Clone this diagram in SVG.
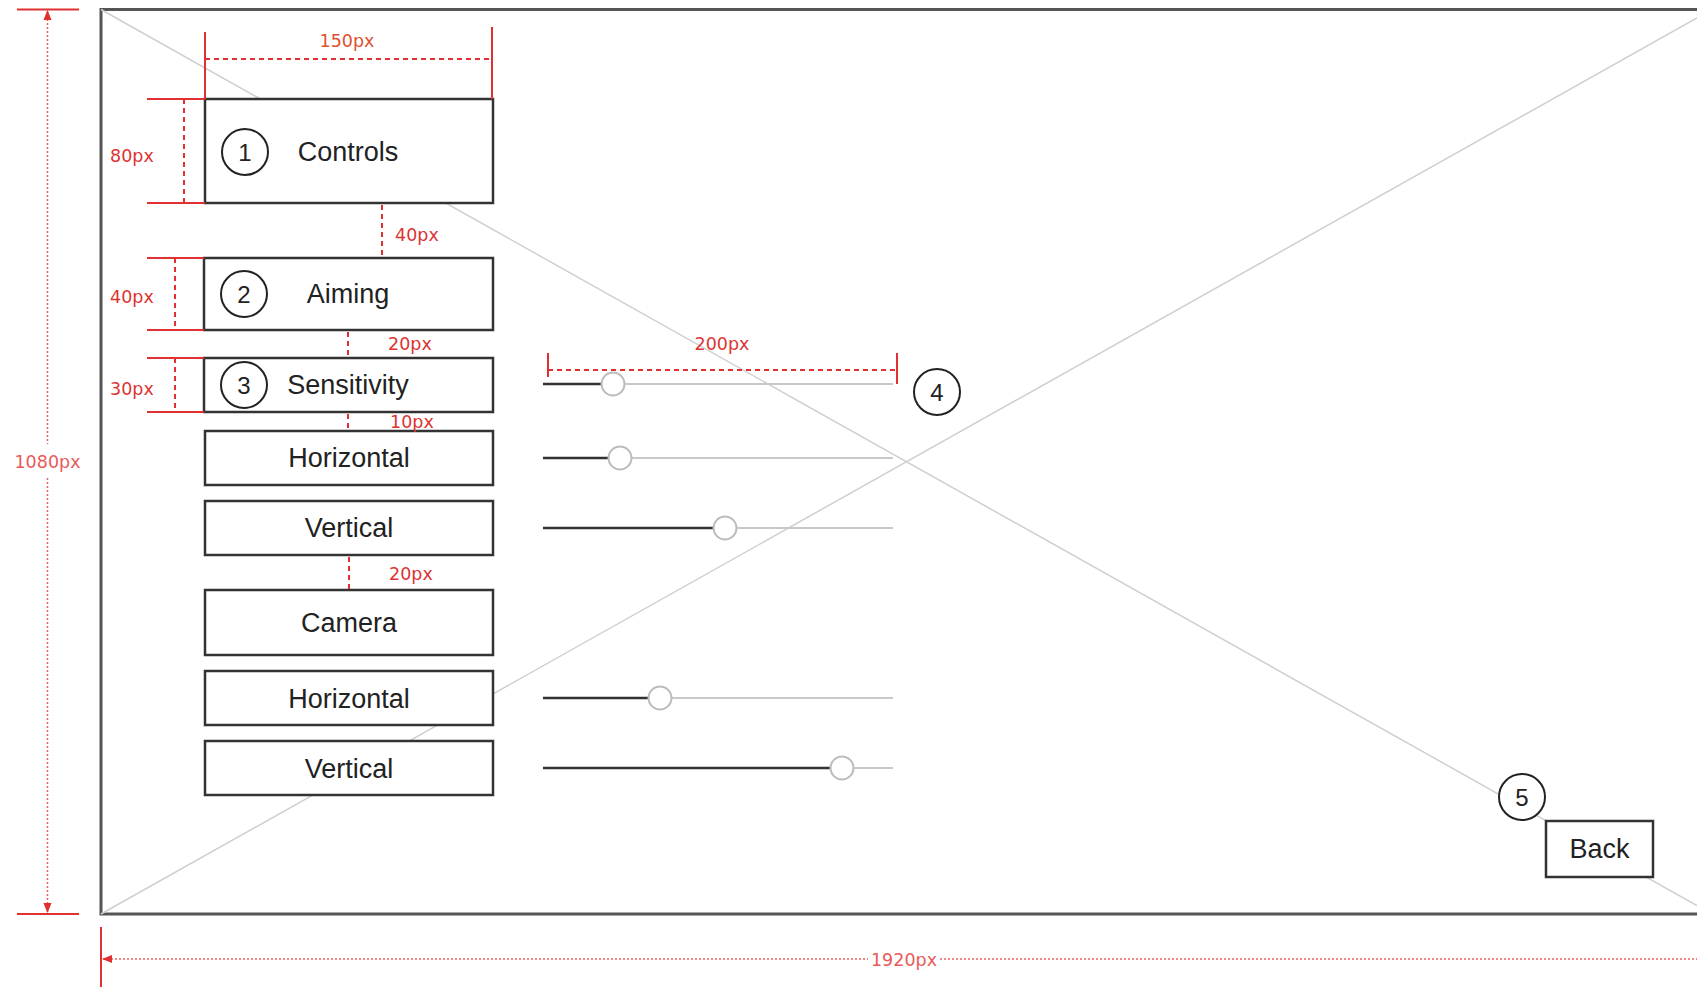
<svg xmlns="http://www.w3.org/2000/svg" width="1697" height="987" viewBox="0 0 1697 987">
<defs>
<style>
.box{fill:#fff;stroke:#333;stroke-width:2.5}
.lbl{font-family:"Liberation Sans",Arial,sans-serif;font-size:27px;fill:#222;text-anchor:middle}
.num{font-family:"Liberation Sans",Arial,sans-serif;font-size:24px;fill:#222;text-anchor:middle}
.badge{fill:#fff;stroke:#222;stroke-width:2}
.dim{font-family:"DejaVu Sans",Verdana,sans-serif;font-size:17.5px;fill:#dd3333}
.bigdim{font-family:"DejaVu Sans",Verdana,sans-serif;font-size:17.5px;fill:#e85a5a;text-anchor:middle}
.tick{stroke:#e03030;stroke-width:2;fill:none}
.dash{stroke:#e03030;stroke-width:2;stroke-dasharray:5 4;fill:none}
.dot{stroke:#e86060;stroke-width:1.5;stroke-dasharray:2 2;fill:none}
.diag{stroke:#cfcfcf;stroke-width:1.5}
.track{stroke:#c8c8c8;stroke-width:2}
.fill{stroke:#333;stroke-width:2.5}
.knob{fill:#fff;stroke:#bdbdbd;stroke-width:2}
</style>
<marker id="arr" viewBox="0 0 10 10" refX="9" refY="5" markerWidth="7" markerHeight="7" orient="auto-start-reverse">
<path d="M0,1 L10,5 L0,9 z" fill="#e03030"/>
</marker>
</defs>
<rect width="1697" height="987" fill="#fff"/>
<g id="frame">
<rect x="101" y="9.5" width="1611" height="904.5" fill="#fff" stroke="#555" stroke-width="3"/>
<line class="diag" x1="101" y1="9.5" x2="1712" y2="914"/>
<line class="diag" x1="101" y1="914" x2="1712" y2="9.5"/>
</g>
<g id="node-controls">
<rect class="box" x="205" y="99" width="288" height="104"/>
<circle class="badge" cx="245" cy="152" r="23"/>
<text class="num" x="245" y="161">1</text>
<text class="lbl" x="348" y="161">Controls</text>
</g>
<g id="node-aiming">
<rect class="box" x="204" y="258" width="289" height="72"/>
<circle class="badge" cx="244" cy="294" r="23"/>
<text class="num" x="244" y="303">2</text>
<text class="lbl" x="348" y="303">Aiming</text>
</g>
<g id="node-sensitivity">
<rect class="box" x="204" y="358" width="289" height="54"/>
<circle class="badge" cx="244" cy="385" r="23"/>
<text class="num" x="244" y="394">3</text>
<text class="lbl" x="348" y="394">Sensitivity</text>
</g>
<g id="node-aim-horizontal">
<rect class="box" x="205" y="431" width="288" height="54"/>
<text class="lbl" x="349" y="467">Horizontal</text>
</g>
<g id="node-aim-vertical">
<rect class="box" x="205" y="501" width="288" height="54"/>
<text class="lbl" x="349" y="537">Vertical</text>
</g>
<g id="node-camera">
<rect class="box" x="205" y="590" width="288" height="65"/>
<text class="lbl" x="349" y="632">Camera</text>
</g>
<g id="node-cam-horizontal">
<rect class="box" x="205" y="671" width="288" height="54"/>
<text class="lbl" x="349" y="708">Horizontal</text>
</g>
<g id="node-cam-vertical">
<rect class="box" x="205" y="741" width="288" height="54"/>
<text class="lbl" x="349" y="778">Vertical</text>
</g>
<g id="node-slider-sensitivity">
<line class="track" x1="543" y1="384" x2="893" y2="384"/>
<line class="fill" x1="543" y1="384" x2="601" y2="384"/>
<circle class="knob" cx="613" cy="384" r="11.5"/>
</g>
<g id="node-slider-aim-h">
<line class="track" x1="543" y1="458" x2="893" y2="458"/>
<line class="fill" x1="543" y1="458" x2="609" y2="458"/>
<circle class="knob" cx="620" cy="458" r="11.5"/>
</g>
<g id="node-slider-aim-v">
<line class="track" x1="543" y1="528" x2="893" y2="528"/>
<line class="fill" x1="543" y1="528" x2="714" y2="528"/>
<circle class="knob" cx="725" cy="528" r="11.5"/>
</g>
<g id="node-slider-cam-h">
<line class="track" x1="543" y1="698" x2="893" y2="698"/>
<line class="fill" x1="543" y1="698" x2="649" y2="698"/>
<circle class="knob" cx="660" cy="698" r="11.5"/>
</g>
<g id="node-slider-cam-v">
<line class="track" x1="543" y1="768" x2="893" y2="768"/>
<line class="fill" x1="543" y1="768" x2="831" y2="768"/>
<circle class="knob" cx="842" cy="768" r="11.5"/>
</g>
<g id="node-badge-4">
<circle class="badge" cx="937" cy="392" r="23"/>
<text class="num" x="937" y="401">4</text>
</g>
<g id="node-badge-5">
<circle class="badge" cx="1522" cy="797" r="23"/>
<text class="num" x="1522" y="806">5</text>
</g>
<g id="node-back">
<rect class="box" x="1546" y="821" width="107" height="56"/>
<text class="lbl" x="1599.5" y="858">Back</text>
</g>
<g id="connectors">
<!-- 150px -->
<line class="tick" x1="205" y1="32" x2="205" y2="99"/>
<line class="tick" x1="492" y1="27" x2="492" y2="99"/>
<line class="dash" x1="205" y1="59" x2="492" y2="59"/>
<text class="dim" x="347" y="47" text-anchor="middle" fill="#e0502e" style="fill:#e0502e">150px</text>
<!-- 80px -->
<line class="tick" x1="147" y1="99" x2="205" y2="99"/>
<line class="tick" x1="147" y1="203" x2="205" y2="203"/>
<line class="dash" x1="184" y1="99" x2="184" y2="203"/>
<text class="dim" x="110" y="162">80px</text>
<!-- 40px gap -->
<line class="dash" x1="382" y1="205" x2="382" y2="257"/>
<text class="dim" x="395" y="241">40px</text>
<!-- 40px height -->
<line class="tick" x1="147" y1="258" x2="204" y2="258"/>
<line class="tick" x1="147" y1="330" x2="204" y2="330"/>
<line class="dash" x1="175" y1="258" x2="175" y2="330"/>
<text class="dim" x="110" y="303">40px</text>
<!-- 20px gap -->
<line class="dash" x1="348" y1="332" x2="348" y2="357"/>
<text class="dim" x="388" y="350">20px</text>
<!-- 30px height -->
<line class="tick" x1="147" y1="358" x2="204" y2="358"/>
<line class="tick" x1="147" y1="412" x2="204" y2="412"/>
<line class="dash" x1="175" y1="358" x2="175" y2="412"/>
<text class="dim" x="110" y="395">30px</text>
<!-- 10px gap -->
<line class="dash" x1="348" y1="414" x2="348" y2="430"/>
<text class="dim" x="390" y="428">10px</text>
<!-- 20px gap 2 -->
<line class="dash" x1="349" y1="557" x2="349" y2="589"/>
<text class="dim" x="389" y="580">20px</text>
<!-- 200px -->
<line class="tick" x1="548" y1="353" x2="548" y2="377"/>
<line class="tick" x1="897" y1="353" x2="897" y2="384"/>
<line class="dash" x1="548" y1="370" x2="897" y2="370"/>
<text class="dim" x="722" y="350" text-anchor="middle">200px</text>
<!-- 1080px -->
<line class="tick" x1="17" y1="9.5" x2="79" y2="9.5"/>
<line class="tick" x1="17" y1="914" x2="79" y2="914" stroke-width="3"/>
<line class="dot" x1="47.5" y1="11" x2="47.5" y2="444" marker-start="url(#arr)"/>
<line class="dot" x1="47.5" y1="478" x2="47.5" y2="912" marker-end="url(#arr)"/>
<text class="bigdim" x="47.5" y="468">1080px</text>
<!-- 1920px -->
<line class="tick" x1="101" y1="927" x2="101" y2="987"/>
<line class="dot" x1="103" y1="959" x2="868" y2="959" marker-start="url(#arr)"/>
<line class="dot" x1="940" y1="959" x2="1697" y2="959"/>
<text class="bigdim" x="904" y="966">1920px</text>
</g>
</svg>
